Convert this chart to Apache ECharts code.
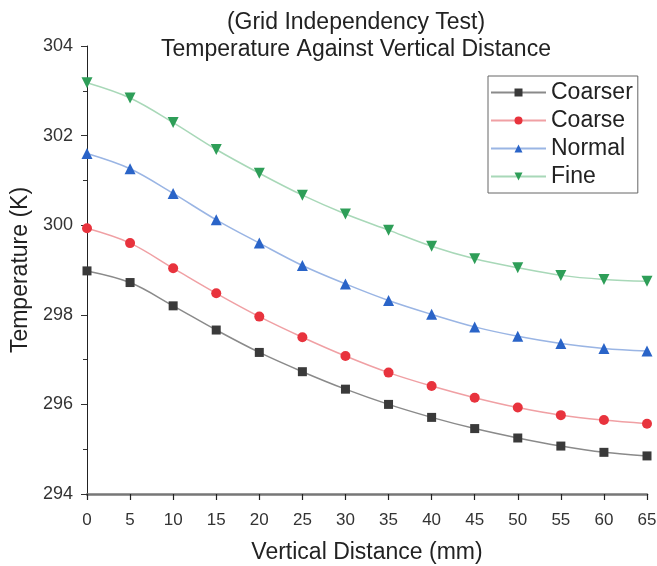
<!DOCTYPE html>
<html>
<head>
<meta charset="utf-8">
<script src="https://cdn.jsdelivr.net/npm/echarts@6/dist/echarts.min.js"></script>
<style>html,body{margin:0;padding:0;background:#fff}#c{width:657px;height:566px}</style>
</head>
<body>
<div id="c"></div>
<script>
const distances = [0, 5, 10, 15, 20, 25, 30, 35, 40, 45, 50, 55, 60, 65];
const coarser = [298.98, 298.72, 298.2, 297.66, 297.16, 296.73, 296.34, 296.0, 295.71, 295.46, 295.25, 295.07, 294.93, 294.85];
const coarse = [299.93, 299.6, 299.04, 298.48, 297.96, 297.5, 297.08, 296.71, 296.41, 296.15, 295.93, 295.76, 295.65, 295.57];
const normal = [301.6, 301.26, 300.71, 300.12, 299.6, 299.1, 298.69, 298.32, 298.01, 297.73, 297.52, 297.36, 297.25, 297.19];
const fine = [303.18, 302.84, 302.29, 301.69, 301.16, 300.67, 300.25, 299.89, 299.53, 299.25, 299.05, 298.88, 298.79, 298.75];
const seriesNames = ['Coarser', 'Coarse', 'Normal', 'Fine'];

const FONT = 'Liberation Sans, Arial, sans-serif';
const chart = echarts.init(document.getElementById('c'), null, {renderer: 'canvas'});

function mk(name, vals, symbol, size, color, lineColor, rotate) {
  return {
    name: name,
    type: 'line',
    smooth: 0.35,
    data: distances.map((d, i) => [d, vals[i]]),
    symbol: symbol,
    symbolSize: size,
    symbolRotate: rotate || 0,
    itemStyle: {color: color},
    lineStyle: {color: lineColor, width: 1.5},
    clip: false
  };
}

chart.setOption({
  animation: false,
  backgroundColor: '#fff',
  textStyle: {fontFamily: FONT},
  title: [
    {text: '(Grid Independency Test)', left: 351, top: 6, textAlign: 'center',
     textStyle: {fontFamily: FONT, fontSize: 23, fontWeight: 'normal', color: '#222'}},
    {text: 'Temperature Against Vertical Distance', left: 351, top: 33, textAlign: 'center',
     textStyle: {fontFamily: FONT, fontSize: 23, fontWeight: 'normal', color: '#222'}}
  ],
  legend: {
    data: seriesNames,
    orient: 'vertical',
    left: 488, top: 76,
    itemWidth: 55, itemHeight: 10,
    itemGap: 5,
    padding: [5, 5, 5, 2],
    borderColor: '#666', borderWidth: 1,
    textStyle: {fontFamily: FONT, fontSize: 23, color: '#222'}
  },
  grid: {left: 87, right: 10, top: 46, bottom: 72, containLabel: false, outerBoundsMode: 'none'},
  xAxis: {
    type: 'value', min: 0, max: 65, interval: 5,
    name: 'Vertical Distance (mm)', nameLocation: 'middle', nameGap: 47,
    nameTextStyle: {fontFamily: FONT, fontSize: 23, color: '#222'},
    axisLine: {show: true, onZero: false, lineStyle: {color: '#777', width: 2.5}},
    axisTick: {show: true, inside: false, length: 6, lineStyle: {color: '#222', width: 1.2}},
    axisLabel: {fontFamily: FONT, fontSize: 17, color: '#333', margin: 9, padding: [9, 0, 0, 0]},
    splitLine: {show: false}
  },
  yAxis: {
    type: 'value', min: 294, max: 304, interval: 2,
    name: 'Temperature (K)', nameLocation: 'middle', nameGap: 52, nameRotate: 90,
    nameTextStyle: {fontFamily: FONT, fontSize: 23, color: '#222'},
    axisLine: {show: true, onZero: false, lineStyle: {color: '#222', width: 1}},
    axisTick: {show: true, inside: false, length: 6, lineStyle: {color: '#333'}},
    minorTick: {show: true, splitNumber: 2, length: 4, lineStyle: {color: '#333'}},
    axisLabel: {fontFamily: FONT, fontSize: 18, color: '#333', margin: 14},
    splitLine: {show: false}
  },
  series: [
    mk('Coarser', coarser, 'rect', 9, '#3a3a3a', '#8a8a8a'),
    mk('Coarse', coarse, 'circle', 10, '#e8333d', '#f0a0a4'),
    mk('Normal', normal, 'triangle', 11, '#2a64c8', '#9ab5e4'),
    mk('Fine', fine, 'triangle', 11, '#2e9e58', '#a8d8b8', 180)
  ]
});
</script>
</body>
</html>
